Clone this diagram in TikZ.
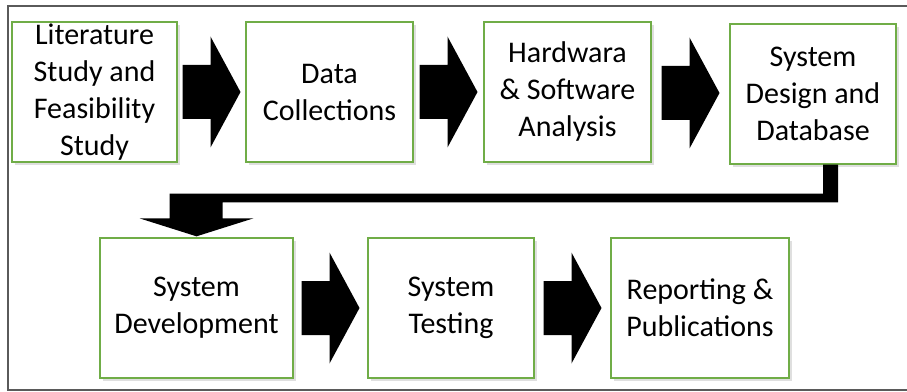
\documentclass[tikz,border=0pt]{standalone}
\usepackage{fontspec}
\setmainfont{Carlito}
\usetikzlibrary{calc,shadows}

\definecolor{boxgreen}{HTML}{70AD47}
\definecolor{framegray}{HTML}{5A5A5A}

% block arrow centred between two boxes
\newcommand{\flowarrow}[2]{%
	\coordinate (mid) at ($(#1.east)!0.5!(#2.west)$);
	\fill ($(mid)+(-29,-27)$) -- ($(mid)+(-1,-27)$) -- ($(mid)+(-1,-55.5)$) -- ($(mid)+(29,0)$)
		-- ($(mid)+(-1,55.5)$) -- ($(mid)+(-1,27)$) -- ($(mid)+(-29,27)$) -- cycle;
}

\begin{document}
\begin{tikzpicture}[x=0.75pt,y=-0.75pt,
	stepbox/.style={draw=boxgreen,line width=1pt,fill=white,inner sep=0pt,
		minimum height=105pt,align=center,
		font=\fontsize{22.5pt}{27.75pt}\selectfont,
		drop shadow={shadow xshift=2pt,shadow yshift=-2pt,opacity=0.25}}]
	\useasboundingbox (0,0) rectangle (907,392);
	\draw[framegray,line width=1pt] (907,6) -- (8,6) -- (8,390) -- (907,390);

	% top row
	\node[stepbox,minimum width=123.75pt] (lit) at (94.5,92) {Literature\\Study and\\Feasibility\\Study};
	\node[stepbox,minimum width=125.25pt] (data) at (329.5,92) {Data\\Collections};
	\node[stepbox,minimum width=125.25pt] (hw) at (567.5,92) {Hardwara\\\& Software\\Analysis};
	\node[stepbox,minimum width=124.5pt] (design) at (813,94) {System\\Design and\\Database};

	% bottom row
	\node[stepbox,minimum width=144.75pt] (dev) at (196.5,308) {System\\Development};
	\node[stepbox,minimum width=124.5pt] (test) at (451,308) {System\\Testing};
	\node[stepbox,minimum width=133.5pt] (report) at (700,308) {Reporting \&\\Publications};

	\flowarrow{lit}{data}
	\flowarrow{data}{hw}
	\flowarrow{hw}{design}
	\flowarrow{dev}{test}
	\flowarrow{test}{report}

	% elbow from design down to development
	\fill ($(design.south)+(10,0)$) -- ($(design.south)+(25,0)$) |- ($(dev.north)+(26,-35)$)
		-- ($(dev.north)+(26,-19)$) -- ($(dev.north)+(57,-19)$) -- ($(dev.north)+(0,-1)$)
		-- ($(dev.north)+(-57,-19)$) -- ($(dev.north)+(-27,-19)$) |- ($(design.south)+(10,29)$) -- cycle;
\end{tikzpicture}
\end{document}
